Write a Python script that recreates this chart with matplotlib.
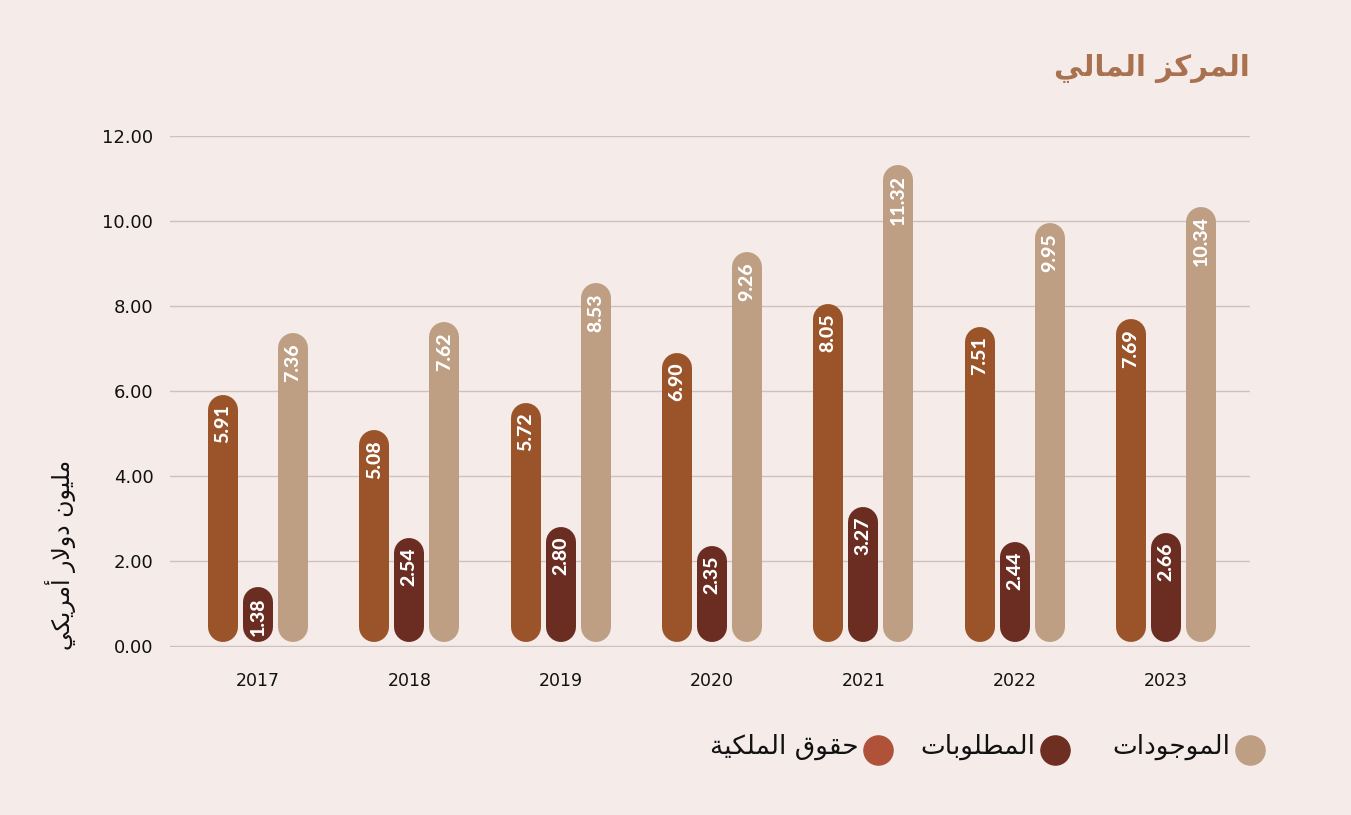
import matplotlib
matplotlib.use("Agg")
import matplotlib.pyplot as plt
from matplotlib.lines import Line2D

# ---- data ----
years = ["2017", "2018", "2019", "2020", "2021", "2022", "2023"]
equity = [5.91, 5.08, 5.72, 6.90, 8.05, 7.51, 7.69]
liabilities = [1.38, 2.54, 2.80, 2.35, 3.27, 2.44, 2.66]
assets = [7.36, 7.62, 8.53, 9.26, 11.32, 9.95, 10.34]
y_ticks = [0, 2, 4, 6, 8, 10, 12]

title = "المركز المالي"
y_label = "مليون دولار أمريكي"
legend_names = ["الموجودات", "المطلوبات", "حقوق الملكية"]

BG = "#F5ECE9"
C_EQ, C_LI, C_AS = "#9B5429", "#6B2D21", "#BE9F84"
LEG_COLORS = [C_AS, "#6E2E22", "#B05239"]

# ---- minimal arabic shaping (matplotlib has no RTL/joining support) ----
DUAL = {
    "ب": (0xFE8F, 0xFE90, 0xFE91, 0xFE92), "ت": (0xFE95, 0xFE96, 0xFE97, 0xFE98),
    "ج": (0xFE9D, 0xFE9E, 0xFE9F, 0xFEA0), "ح": (0xFEA1, 0xFEA2, 0xFEA3, 0xFEA4),
    "ط": (0xFEC1, 0xFEC2, 0xFEC3, 0xFEC4), "ق": (0xFED5, 0xFED6, 0xFED7, 0xFED8),
    "ك": (0xFED9, 0xFEDA, 0xFEDB, 0xFEDC), "ل": (0xFEDD, 0xFEDE, 0xFEDF, 0xFEE0),
    "م": (0xFEE1, 0xFEE2, 0xFEE3, 0xFEE4), "ن": (0xFEE5, 0xFEE6, 0xFEE7, 0xFEE8),
    "ي": (0xFEF1, 0xFEF2, 0xFEF3, 0xFEF4),
}
RIGHT = {
    "ا": (0xFE8D, 0xFE8E), "أ": (0xFE83, 0xFE84), "د": (0xFEA9, 0xFEAA),
    "ر": (0xFEAD, 0xFEAE), "ز": (0xFEAF, 0xFEB0), "و": (0xFEED, 0xFEEE),
    "ة": (0xFE93, 0xFE94), "لا": (0xFEFB, 0xFEFC), "لأ": (0xFEF7, 0xFEF8),
}


def shape(s):
    toks, i = [], 0
    while i < len(s):
        if s[i] == "ل" and i + 1 < len(s) and s[i + 1] in "اأ":
            toks.append(s[i:i + 2]); i += 2
        else:
            toks.append(s[i]); i += 1
    out = []
    for k, t in enumerate(toks):
        prev = k > 0 and toks[k - 1] in DUAL
        nxt = k + 1 < len(toks) and (toks[k + 1] in DUAL or toks[k + 1] in RIGHT)
        if t in DUAL:
            f = DUAL[t]
            c = f[3] if prev and nxt else f[1] if prev else f[2] if nxt else f[0]
        elif t in RIGHT:
            c = RIGHT[t][1] if prev else RIGHT[t][0]
        else:
            out.append(t); continue
        out.append(chr(c))
    return "".join(out)[::-1]


AR = ["DejaVu Sans"]

W, H, dpi = 1351, 815, 100
fig = plt.figure(figsize=(W / dpi, H / dpi), dpi=dpi, facecolor=BG)
ax = fig.add_axes([170 / W, (H - 647) / H, 1080 / W, 511 / H])
ax.set_facecolor(BG)
ax.set_xlim(-0.5815, 6.555)
ax.set_ylim(-0.03, 12)
for s in ax.spines.values():
    s.set_visible(False)
ax.set_yticks(y_ticks)
ax.set_yticklabels([f"{v:.2f}" for v in y_ticks], fontsize=13, color="#111111")
ax.set_xticks(range(len(years)))
ax.set_xticklabels(years, fontsize=12.5, color="#111111")
ax.tick_params(length=0)
ax.tick_params(axis="y", pad=12)
ax.tick_params(axis="x", pad=18)
ax.grid(axis="y", color="#CDC0BE", linewidth=1)
ax.set_axisbelow(True)

# pill bars: round-capped thick lines, sized in pixels
ppu = ax.transData.transform((0, 1))[1] - ax.transData.transform((0, 0))[1]
bar_px = 30
r = (bar_px / 2) / ppu
base = 4 / ppu
off = 35 / 151.3
lw = bar_px * 72 / dpi

for series, dx, color in [(equity, -off, C_EQ), (liabilities, 0, C_LI), (assets, off, C_AS)]:
    for i, v in enumerate(series):
        x = i + dx
        ax.plot([x, x], [base + r, v - r], color=color, lw=lw,
                solid_capstyle="round", clip_on=False, zorder=3)
        ax.text(x, v - 10 / ppu, f"{v:.2f}", rotation=90, ha="center", va="top",
                fontsize=14, fontweight="black", family="Lato", color="white", zorder=4)

# title and axis label
fig.text(1250 / W, (H - 68) / H, shape(title), ha="right", va="center",
         fontsize=21, fontweight="bold", color="#A9714F", family=AR)
fig.text(60 / W, (H - 555) / H, shape(y_label), rotation=90, ha="center", va="center",
         fontsize=17, color="#111111", family=AR)

# legend (rtl: marker right of text)
for name, cx, color in zip(legend_names, [1250, 1055, 878], LEG_COLORS):
    fig.add_artist(Line2D([cx / W], [(H - 750) / H], marker="o", markersize=21,
                          color=color, linestyle="none", transform=fig.transFigure))
    fig.text((cx - 20) / W, (H - 747) / H, shape(name), ha="right", va="center",
             fontsize=19, color="#111111", family=AR)

fig.savefig("out.png", dpi=dpi, facecolor=BG)
